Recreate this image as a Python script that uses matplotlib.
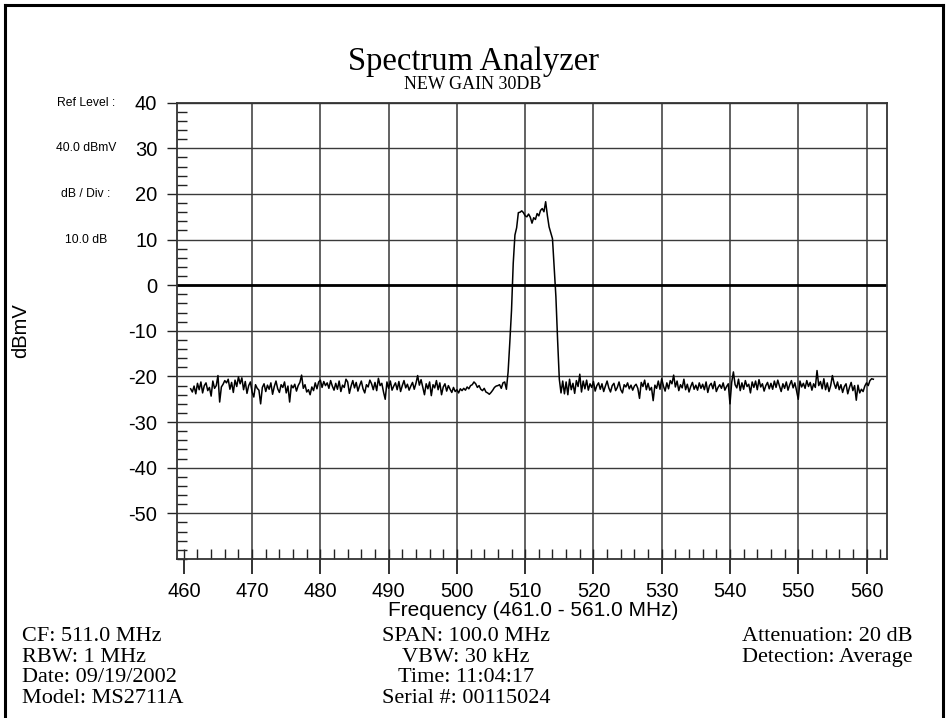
import matplotlib
matplotlib.use("Agg")
import matplotlib.pyplot as plt
import numpy as np
from matplotlib.ticker import MultipleLocator
from matplotlib.transforms import blended_transform_factory
from matplotlib.lines import Line2D

plt.rcParams["axes.unicode_minus"] = False

# ---------------- data ----------------
freq_start = 461.0
freq_step = 0.25
level_dbmv = [
    # 461.00 - 465.75
    -22.7, -23.4, -22.1, -23.8, -21.5, -22.9, -21.2, -23.6, -22.0, -21.4,
    -23.1, -22.4, -24.3, -21.0, -22.6, -22.0, -19.8, -25.6, -22.3, -21.7,
    # 466.00 - 470.75
    -20.9, -21.4, -20.6, -22.8, -21.3, -23.5, -20.8, -22.2, -20.1, -21.6,
    -20.3, -22.9, -21.1, -23.7, -22.0, -21.2, -23.4, -24.5, -21.8, -22.6,
    # 471.00 - 475.75
    -23.0, -26.0, -22.4, -21.6, -23.3, -21.9, -22.8, -21.4, -23.9, -22.2,
    -21.0, -22.7, -23.5, -21.8, -22.4, -21.2, -23.6, -22.1, -25.6, -21.9,
    # 476.00 - 480.75
    -22.5, -21.7, -23.2, -22.0, -21.3, -19.7, -22.6, -21.8, -23.4, -22.9,
    -24.0, -22.3, -23.1, -21.4, -22.7, -21.2, -20.8, -22.4, -21.1, -22.0,
    # 481.00 - 485.75
    -21.4, -22.6, -20.9, -22.1, -23.0, -21.5, -22.8, -21.0, -23.3, -21.9,
    -22.4, -20.6, -21.2, -23.7, -22.1, -20.9, -22.5, -21.3, -23.2, -22.0,
    # 486.00 - 490.75
    -21.0, -22.7, -23.6, -21.8, -22.3, -20.8, -21.6, -22.9, -21.3, -23.1,
    -20.4, -22.0, -21.5, -23.4, -25.0, -21.2, -22.6, -21.0, -23.0, -22.1,
    # 491.00 - 495.75
    -21.4, -22.9, -21.1, -23.3, -22.0, -20.9, -22.5, -21.7, -23.0, -22.1,
    -21.3, -22.8, -21.5, -19.8, -21.9, -20.7, -22.4, -24.0, -21.6, -22.7,
    # 496.00 - 500.75
    -21.2, -24.2, -21.8, -22.5, -20.9, -22.9, -21.4, -24.0, -22.3, -21.6,
    -23.2, -22.0, -22.8, -23.5, -22.4, -23.3, -22.9, -23.6, -22.7, -23.1,
    # 501.00 - 505.75
    -22.6, -23.0, -22.3, -22.7, -22.0, -21.8, -21.2, -21.6, -22.4, -22.0,
    -22.8, -23.1, -22.6, -23.4, -23.6, -23.9, -23.5, -23.0, -22.4, -22.1,
    # 506.00 - 510.75
    -22.0, -21.8, -22.6, -21.4, -21.2, -22.8, -19.0, -12.5, -5.5, 4.8,
    11.0, 12.6, 15.9, 16.0, 16.3, 15.9, 15.2, 15.0, 15.6, 14.9,
    # 511.00 - 515.75
    13.6, 14.8, 14.4, 15.7, 15.2, 16.4, 16.8, 16.1, 18.3, 15.3,
    12.8, 11.5, 10.2, 4.0, -2.5, -12.0, -20.6, -23.6, -21.0, -23.8,
    # 516.00 - 520.75
    -21.2, -24.0, -20.6, -22.9, -21.5, -23.7, -20.9, -22.2, -19.5, -23.4,
    -21.0, -22.7, -20.8, -23.0, -21.6, -22.4, -21.1, -23.2, -22.0, -21.4,
    # 521.00 - 525.75
    -22.8, -21.6, -23.3, -22.1, -21.0, -22.5, -23.4, -22.0, -21.5, -23.1,
    -22.4, -21.2, -22.9, -23.6, -21.8, -22.3, -21.4, -22.7, -21.9, -23.0,
    # 526.00 - 530.75
    -22.1, -21.7, -22.6, -24.8, -21.3, -22.2, -20.8, -22.9, -21.5, -23.0,
    -22.4, -25.3, -21.9, -22.6, -21.0, -22.8, -20.5, -22.1, -23.2, -21.4,
    # 531.00 - 535.75
    -22.7, -20.9, -21.6, -19.7, -22.3, -21.0, -23.1, -21.8, -22.5, -20.6,
    -22.9, -21.7, -23.4, -22.2, -21.3, -22.8, -21.9, -23.0, -21.4, -22.6,
    # 536.00 - 540.75
    -21.7, -22.9, -21.2, -23.5, -22.0, -21.5, -22.7, -21.1, -23.3, -22.4,
    -21.8, -22.6, -21.4, -23.0, -22.2, -21.6, -26.0, -21.3, -19.0, -21.8,
    # 541.00 - 545.75
    -22.5, -20.6, -23.1, -21.4, -22.8, -20.9, -22.2, -21.7, -23.6, -21.2,
    -22.4, -21.0, -22.9, -20.7, -22.3, -21.6, -23.2, -22.0, -21.3, -22.7,
    # 546.00 - 550.75
    -21.5, -22.8, -21.0, -22.4, -20.8, -22.1, -23.3, -21.6, -22.6, -21.2,
    -23.0, -21.8, -20.9, -22.5, -21.4, -23.1, -25.0, -21.0, -22.3, -21.5,
    # 551.00 - 555.75
    -22.6, -20.9, -22.2, -21.3, -23.0, -21.6, -22.4, -18.7, -22.0, -21.1,
    -22.7, -20.5, -22.9, -21.4, -23.3, -22.0, -19.8, -21.5, -22.6, -21.2,
    # 556.00 - 560.75
    -22.9, -21.8, -23.5, -22.2, -21.6, -23.8, -22.4, -21.3, -23.1, -22.0,
    -25.2, -21.9, -23.6, -22.8, -23.3, -22.1, -21.4, -22.0, -20.9, -20.5,
    # 561.00
    -20.6,
]
freq_mhz = freq_start + freq_step * np.arange(len(level_dbmv))

x_ticks = [460, 470, 480, 490, 500, 510, 520, 530, 540, 550, 560]
y_ticks = [40, 30, 20, 10, 0, -10, -20, -30, -40, -50]

title = "Spectrum Analyzer"
subtitle = "NEW GAIN 30DB"
side_labels = ["Ref Level :", "40.0 dBmV", "dB / Div :", "10.0 dB"]
side_label_levels = [40, 30, 20, 10]
left_info = ["CF: 511.0 MHz", "RBW: 1 MHz", "Date: 09/19/2002", "Model: MS2711A"]
mid_info = ["SPAN: 100.0 MHz", "VBW: 30 kHz", "Time: 11:04:17", "Serial #: 00115024"]
right_info = ["Attenuation: 20 dB", "Detection: Average"]

# ---------------- figure ----------------
W, H = 948, 718
fig = plt.figure(figsize=(W / 100, H / 100), dpi=100)
fig.patch.set_facecolor("white")

def fx(px):
    return px / W

def fy(py):
    return 1 - py / H

ax_l, ax_r, ax_t, ax_b = 177, 887, 102.7, 559
ax = fig.add_axes([fx(ax_l), fy(ax_b), fx(ax_r - ax_l), (ax_b - ax_t) / H])

ax.plot(freq_mhz, level_dbmv, color="black", lw=1.1, zorder=3)

ax.set_xlim(459, 563)
ax.set_ylim(-60, 40)

ax.set_xticks(x_ticks)
ax.set_yticks(y_ticks)
ax.xaxis.set_minor_locator(MultipleLocator(2))
ax.yaxis.set_minor_locator(MultipleLocator(2))
ax.xaxis.remove_overlapping_locs = False

sans = "Liberation Sans"
serif = "Liberation Serif"

ax.tick_params(axis="both", which="major", labelsize=14.5, colors="#222222",
               labelcolor="black")
ax.tick_params(axis="y", which="major", direction="out", length=7.2, width=1.0, pad=7)
ax.tick_params(axis="x", which="major", direction="out", length=10.8, width=1.3, pad=6)
ax.tick_params(axis="both", which="minor", direction="in", length=7.0, width=1.0,
               colors="#222222")
for lab in ax.get_xticklabels() + ax.get_yticklabels():
    lab.set_fontfamily(sans)

ax.grid(True, which="major", color="#3a3a3a", lw=1.0, zorder=1)
for gl in ax.xaxis.get_gridlines():
    gl.set_color("#555555")
    gl.set_linewidth(1.3)
ax.xaxis.get_gridlines()[0].set_visible(False)
ax.axhline(0, color="black", lw=2.0, zorder=2)

for sp in ax.spines.values():
    sp.set_color("#333333")
    sp.set_linewidth(1.3)

# side labels (left)
tr = blended_transform_factory(fig.transFigure, ax.transData)
for txt, lev in zip(side_labels, side_label_levels):
    ax.text(fx(86), lev, txt, transform=tr, ha="center", va="center",
            fontsize=8.7, family=sans, color="black")

# titles
fig.text(fx(473), fy(70), title, ha="center", va="baseline", fontsize=23.5, family=serif)
fig.text(fx(473), fy(89), subtitle, ha="center", va="baseline", fontsize=13, family=serif)

# axis labels
fig.text(fx(21), fy(331), "dBmV", rotation=90, ha="center", va="center",
         fontsize=14.5, family=sans)
fig.text(fx(533), fy(611), "Frequency (461.0 - 561.0 MHz)", ha="center", va="center",
         fontsize=15, family=sans)

# info block
baselines = [641, 662, 682, 703]
for txt, b in zip(left_info, baselines):
    fig.text(fx(22), fy(b), txt, ha="left", va="baseline", fontsize=16, family=serif)
for txt, b in zip(mid_info, baselines):
    fig.text(fx(466), fy(b), txt, ha="center", va="baseline", fontsize=16, family=serif)
for txt, b in zip(right_info, baselines):
    fig.text(fx(913), fy(b), txt, ha="right", va="baseline", fontsize=16, family=serif)

# outer frame
for xs, ys in [([5, 5], [5, 720]), ([5, 943], [5, 5]), ([943, 943], [5, 720])]:
    fig.add_artist(Line2D([fx(v) for v in xs], [fy(v) for v in ys],
                          transform=fig.transFigure, color="black", lw=2.2))

fig.savefig("out.png", dpi=100)
